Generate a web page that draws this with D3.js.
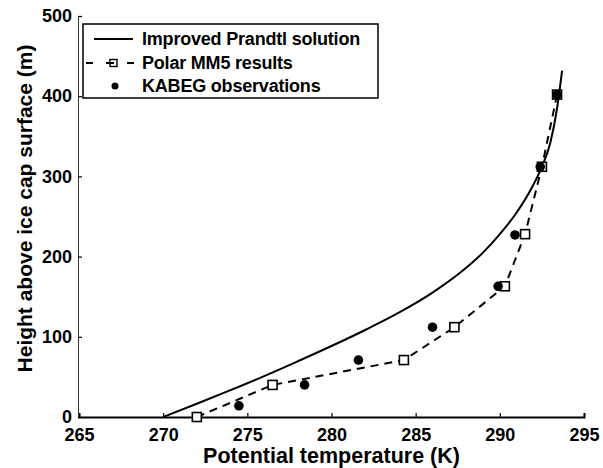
<!DOCTYPE html>
<html>
<head>
<meta charset="utf-8">
<script src="https://cdn.jsdelivr.net/npm/d3@7"></script>
<style>
  html, body { margin: 0; padding: 0; background: #fff; }
  svg text { font-family: "Liberation Sans", Arial, Helvetica, sans-serif; font-weight: bold; fill: #000; }
</style>
</head>
<body>
<svg id="chart" width="603" height="468"></svg>
<script>
// Improved Prandtl solution (potential temperature K, height m)
const prandtlTemp   = [270, 272, 274, 276, 278, 280, 282, 284, 286, 288, 289, 290, 291, 292, 292.5, 293, 293.4, 293.7];
const prandtlHeight = [0, 16.5, 33.5, 51, 69.5, 88.5, 108.5, 130, 155, 186, 205, 228, 255, 290, 312, 342, 385, 432];

// Polar MM5 results
const mm5Temp   = [272, 276.5, 284.3, 287.3, 290.3, 291.5, 292.5, 293.4];
const mm5Height = [0, 40, 71, 112, 163, 228, 312, 402];

// KABEG observations
const kabegTemp   = [274.5, 278.4, 281.6, 286.0, 289.9, 290.9, 292.4, 293.4];
const kabegHeight = [14, 40, 71, 112, 163, 227, 312, 402];

// Axis ticks
const xTicks = [265, 270, 275, 280, 285, 290, 295];
const yTicks = [0, 100, 200, 300, 400, 500];

const legendLabels = ["Improved Prandtl solution", "Polar MM5 results", "KABEG observations"];

const svg = d3.select("#chart");

const x = d3.scaleLinear().domain([265, 295]).range([79, 584]);
const y = d3.scaleLinear().domain([0, 500]).range([417, 16]);

// Axes (inward ticks, left and bottom only)
const xAxis = d3.axisBottom(x).tickValues(xTicks).tickSize(-4).tickPadding(11).tickFormat(d3.format("d"));
const yAxis = d3.axisLeft(y).tickValues(yTicks).tickSize(-4).tickPadding(6).tickFormat(d3.format("d"));

const gx = svg.append("g").attr("transform", `translate(0,${y(0)})`).call(xAxis);
gx.select(".domain").attr("stroke", "#000").attr("stroke-width", 2);
gx.selectAll(".tick line").attr("stroke", "#000").attr("stroke-width", 1.2);
gx.selectAll(".tick text").attr("font-size", 18).style("font-family", "Liberation Sans, Arial, sans-serif").style("font-weight", "bold");

const gy = svg.append("g").attr("transform", `translate(${x(265) - 1},0)`).call(yAxis);
gy.select(".domain").attr("stroke", "#333").attr("stroke-width", 1);
gy.selectAll(".tick line").attr("stroke", "#000").attr("stroke-width", 1.2);
gy.selectAll(".tick text").attr("font-size", 18).style("font-family", "Liberation Sans, Arial, sans-serif").style("font-weight", "bold");

// Axis titles
svg.append("text")
  .attr("x", (x(265) + x(295)) / 2)
  .attr("y", 463)
  .attr("text-anchor", "middle")
  .attr("font-size", 21.5)
  .text("Potential temperature (K)");

svg.append("text")
  .attr("transform", `translate(32,${(y(0) + y(500)) / 2 - 8}) rotate(-90)`)
  .attr("text-anchor", "middle")
  .attr("font-size", 21)
  .text("Height above ice cap surface (m)");

// Improved Prandtl solution curve
const prandtl = prandtlTemp.map((t, i) => [t, prandtlHeight[i]]);
svg.append("path")
  .datum(prandtl)
  .attr("fill", "none")
  .attr("stroke", "#000")
  .attr("stroke-width", 2)
  .attr("d", d3.line().x(d => x(d[0])).y(d => y(d[1])).curve(d3.curveMonotoneX));

// Polar MM5 dashed line
const mm5 = mm5Temp.map((t, i) => [t, mm5Height[i]]);
svg.append("path")
  .datum(mm5)
  .attr("fill", "none")
  .attr("stroke", "#000")
  .attr("stroke-width", 2)
  .attr("stroke-dasharray", "8,6")
  .attr("d", d3.line().x(d => x(d[0])).y(d => y(d[1])));

// Polar MM5 markers (open squares)
const sq = 9;
svg.append("g").selectAll("rect")
  .data(mm5)
  .join("rect")
  .attr("x", d => x(d[0]) - sq / 2)
  .attr("y", d => y(d[1]) - sq / 2)
  .attr("width", sq)
  .attr("height", sq)
  .attr("fill", "#fff")
  .attr("stroke", "#000")
  .attr("stroke-width", 1.6);

// KABEG observations (filled circles)
svg.append("g").selectAll("circle")
  .data(kabegTemp.map((t, i) => [t, kabegHeight[i]]))
  .join("circle")
  .attr("cx", d => x(d[0]))
  .attr("cy", d => y(d[1]))
  .attr("r", 4.8)
  .attr("fill", "#000");

// Legend
const legend = svg.append("g");
legend.append("rect")
  .attr("x", 83).attr("y", 24).attr("width", 295).attr("height", 74)
  .attr("fill", "#fff").attr("stroke", "#000").attr("stroke-width", 1.5);

const rowY = [39, 63, 86];
legend.selectAll("text.lab")
  .data(legendLabels)
  .join("text")
  .attr("class", "lab")
  .attr("x", 142)
  .attr("y", (d, i) => rowY[i])
  .attr("dy", "0.36em")
  .attr("font-size", 18)
  .attr("letter-spacing", -0.2)
  .text(d => d);

legend.append("line")
  .attr("x1", 94).attr("x2", 133).attr("y1", rowY[0]).attr("y2", rowY[0])
  .attr("stroke", "#000").attr("stroke-width", 2);

legend.append("line")
  .attr("x1", 86).attr("x2", 134).attr("y1", rowY[1]).attr("y2", rowY[1])
  .attr("stroke", "#000").attr("stroke-width", 2).attr("stroke-dasharray", "7,13,8,13,7");
legend.append("rect")
  .attr("x", 110).attr("y", rowY[1] - 3.5).attr("width", 7).attr("height", 7)
  .attr("fill", "none").attr("stroke", "#000").attr("stroke-width", 1.4);

legend.append("circle")
  .attr("cx", 115).attr("cy", rowY[2]).attr("r", 3.5).attr("fill", "#000");
</script>
</body>
</html>
